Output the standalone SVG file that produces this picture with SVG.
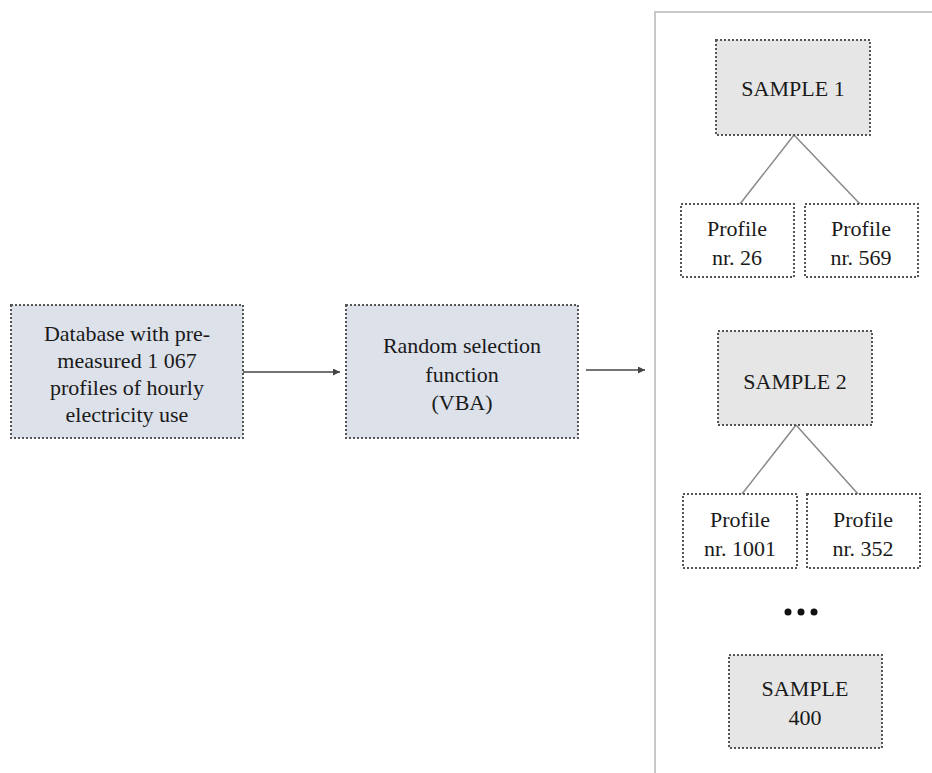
<svg xmlns="http://www.w3.org/2000/svg" width="932" height="773" viewBox="0 0 932 773">
<defs>
<style>
.box{stroke:#555;stroke-width:2;stroke-dasharray:2 2;}
.blue{fill:#dde1ea;}
.gray{fill:#e6e6e6;}
.white{fill:#fff;}
text{font-size:22px;fill:#1a1a1a;text-anchor:middle;dominant-baseline:central;}
.conn{stroke:#888;stroke-width:1.5;fill:none;}
.arr{stroke:#444;stroke-width:1.5;fill:none;marker-end:url(#ah);}
</style>
<marker id="ah" viewBox="0 0 10 10" refX="10" refY="5" markerWidth="7" markerHeight="7" markerUnits="userSpaceOnUse" orient="auto"><path d="M0,0 L10,5 L0,10 z" fill="#444"/></marker>
</defs>
<rect width="932" height="773" fill="#fff"/>
<path d="M655,773 L655,12 L932,12" fill="none" stroke="#c8c8c8" stroke-width="2"/>
<g id="connectors">
<line class="arr" x1="243" y1="372" x2="340" y2="372"/>
<line class="arr" x1="586" y1="370" x2="645" y2="370"/>
<line class="conn" x1="794" y1="135" x2="740" y2="204"/>
<line class="conn" x1="794" y1="135" x2="860" y2="204"/>
<line class="conn" x1="796" y1="425" x2="742" y2="494"/>
<line class="conn" x1="796" y1="425" x2="858" y2="494"/>
</g>
<g font-family="'Liberation Serif', 'DejaVu Serif', serif">
<g id="database">
<rect class="box blue" x="11" y="305" width="232" height="133"/>
<text x="127" y="333">Database with pre-</text>
<text x="127" y="360">measured 1 067</text>
<text x="127" y="387">profiles of hourly</text>
<text x="127" y="414">electricity use</text>
</g>
<g id="random">
<rect class="box blue" x="346" y="305" width="232" height="133"/>
<text x="462" y="345">Random selection</text>
<text x="462" y="374">function</text>
<text x="462" y="402">(VBA)</text>
</g>
<g id="sample1">
<rect class="box gray" x="716" y="40" width="154" height="95"/>
<text x="793" y="88">SAMPLE 1</text>
</g>
<g id="profile26">
<rect class="box white" x="681" y="204" width="113" height="73"/>
<text x="737" y="228">Profile</text>
<text x="737" y="257">nr. 26</text>
</g>
<g id="profile569">
<rect class="box white" x="805" y="204" width="113" height="73"/>
<text x="861" y="228">Profile</text>
<text x="861" y="257">nr. 569</text>
</g>
<g id="sample2">
<rect class="box gray" x="718" y="331" width="154" height="94"/>
<text x="795" y="381">SAMPLE 2</text>
</g>
<g id="profile1001">
<rect class="box white" x="683" y="494" width="114" height="74"/>
<text x="740" y="519">Profile</text>
<text x="740" y="548">nr. 1001</text>
</g>
<g id="profile352">
<rect class="box white" x="807" y="494" width="113" height="74"/>
<text x="863" y="519">Profile</text>
<text x="863" y="548">nr. 352</text>
</g>
<g id="sample400">
<rect class="box gray" x="729" y="655" width="153" height="93"/>
<text x="805" y="688">SAMPLE</text>
<text x="805" y="717">400</text>
</g>
</g>
<g id="ellipsis">
<circle cx="788" cy="612" r="3.5" fill="#111"/>
<circle cx="801" cy="612" r="3.5" fill="#111"/>
<circle cx="814" cy="612" r="3.5" fill="#111"/>
</g>
</svg>
